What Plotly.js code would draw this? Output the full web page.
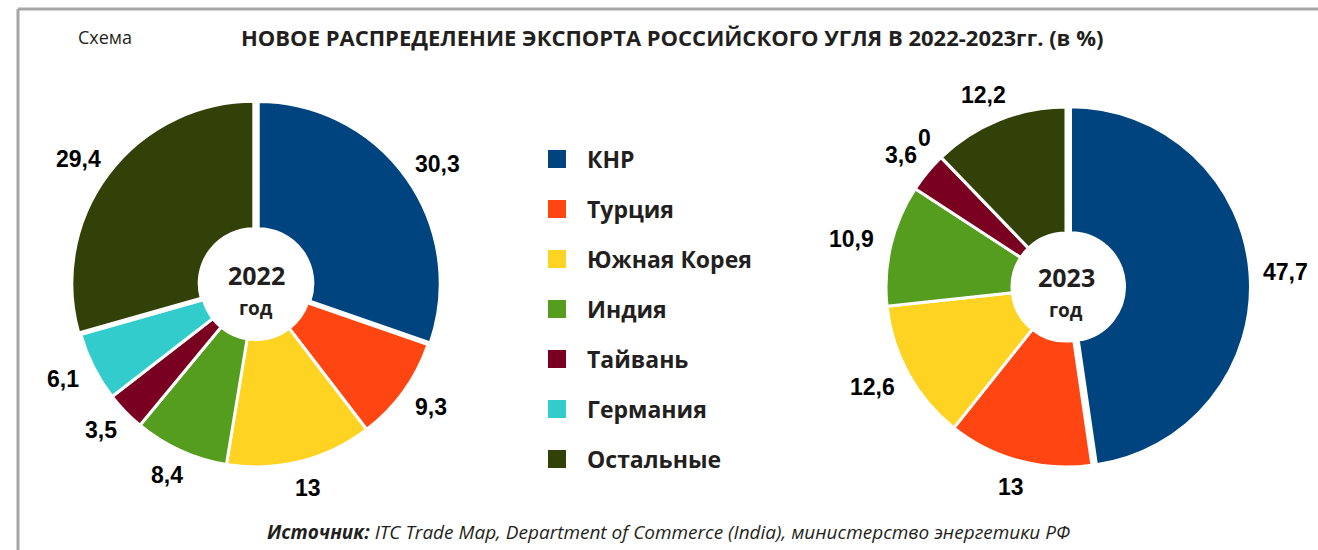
<!DOCTYPE html>
<html>
<head>
<meta charset="utf-8">
<script src="https://cdn.plot.ly/plotly-3.0.1.min.js"></script>
<style>
  html, body { margin: 0; padding: 0; background: #ffffff; }
  #chart { width: 1318px; height: 550px; }
</style>
</head>
<body>
<div id="chart"></div>
<script>
// ---- data ----
const categories = ["КНР", "Турция", "Южная Корея", "Индия", "Тайвань", "Германия", "Остальные"];
const colors = ["#00447F", "#FF4612", "#FFD321", "#559D1E", "#7A0022", "#33CCCC", "#324108"];
const values2022 = [30.3, 9.3, 13, 8.4, 3.5, 6.1, 29.4];
const values2023 = [47.7, 13, 12.6, 10.9, 3.6, 0, 12.2];
const pull2022 = [0.015, 0, 0, 0, 0, 0, 0.015];
const pull2023 = [0.025, 0, 0, 0, 0, 0, 0];
const yearLabels = ["2022", "2023"];
const yearWord = "год";
const titleText = "НОВОЕ РАСПРЕДЕЛЕНИЕ ЭКСПОРТА РОССИЙСКОГО УГЛЯ В 2022-2023гг. (в %)";
const schemaText = "Схема";
const sourceText = "<i><b>Источник:</b> ITC Trade Map, Department of Commerce (India), министерство энергетики РФ</i>";

// ---- geometry helpers ----
const W = 1318, H = 550;
const px = v => v / W;
const py = v => 1 - v / H;
const TXT = "#231F20";
const MYR = "Open Sans, Noto Sans, sans-serif";
const ARL = "Liberation Sans, Arial, sans-serif";
const LABEL_SIZE = 23;

const pies = [
  { values: values2022, pull: pull2022, cx: 256, cy: 285, r: 182, year: yearLabels[0] },
  { values: values2023, pull: pull2023, cx: 1066, cy: 287, r: 180, year: yearLabels[1] }
];

function textHalfWidth(s) {
  let w = 0;
  for (const ch of s) w += (ch === ",") ? 0.278 : 0.556;
  return w * LABEL_SIZE / 2;
}

const traces = [];
const annotations = [];

pies.forEach(p => {
  const maxPull = Math.max.apply(null, p.pull);
  const half = p.r * (1 + maxPull);
  traces.push({
    type: "pie",
    labels: categories,
    values: p.values,
    pull: p.pull,
    sort: false,
    direction: "clockwise",
    rotation: 0,
    hole: 0.3,
    textinfo: "none",
    hoverinfo: "none",
    showlegend: false,
    marker: { colors: colors, line: { color: "#ffffff", width: 3 } },
    domain: { x: [px(p.cx - half), px(p.cx + half)], y: [py(p.cy + half), py(p.cy - half)] }
  });
  // value labels placed just outside each slice, from the data
  const total = p.values.reduce((a, b) => a + b, 0);
  let cum = 0;
  p.values.forEach((v, i) => {
    const mid = (cum + v / 2) / total;
    cum += v;
    const th = 2 * Math.PI * mid;
    const s = String(v).replace(".", ",");
    const hw = textHalfWidth(s), hh = 9, gap = 18;
    const ux = Math.sin(th), uy = -Math.cos(th);
    const lx = p.cx + ux * (p.r + gap + hw);
    const ly = p.cy + uy * (p.r + gap + hh);
    annotations.push({
      xref: "paper", yref: "paper", x: px(lx), y: py(ly),
      xanchor: "center", yanchor: "middle", showarrow: false,
      text: "<b>" + s + "</b>",
      font: { family: ARL, size: LABEL_SIZE, color: "#000000" }
    });
  });
  // centre labels
  annotations.push({
    xref: "paper", yref: "paper", x: px(p.cx), y: py(p.cy - 10),
    xanchor: "center", yanchor: "middle", showarrow: false,
    text: "<b>" + p.year + "</b>",
    font: { family: MYR, size: 25, color: TXT }
  });
  annotations.push({
    xref: "paper", yref: "paper", x: px(p.cx), y: py(p.cy + 23),
    xanchor: "center", yanchor: "middle", showarrow: false,
    text: "<b>" + yearWord + "</b>",
    font: { family: MYR, size: 19, color: TXT }
  });
});

// ---- legend drawn as scatter on hidden axes ----
const idx = categories.map((c, i) => i);
traces.push({
  type: "scatter", mode: "markers",
  x: categories.map(() => 0), y: idx,
  marker: { symbol: "square", size: 18, color: colors, line: { width: 0 } },
  hoverinfo: "none", showlegend: false, xaxis: "x", yaxis: "y", cliponaxis: false
});
categories.forEach((c, i) => {
  annotations.push({
    xref: "x", yref: "y", x: 1, y: i,
    xanchor: "left", yanchor: "middle", showarrow: false,
    text: "<b>" + c + "</b>",
    font: { family: MYR, size: 23, color: TXT }
  });
});

// other texts
annotations.push({
  xref: "paper", yref: "paper", x: px(76), y: py(37),
  xanchor: "left", yanchor: "middle", showarrow: false,
  text: schemaText, font: { family: MYR, size: 18, color: TXT }
});
annotations.push({
  xref: "paper", yref: "paper", x: px(668), y: py(532),
  xanchor: "center", yanchor: "middle", showarrow: false,
  text: sourceText, font: { family: MYR, size: 19, color: TXT }
});

const unit = 28;
const layout = {
  width: W, height: H,
  margin: { l: 0, r: 0, t: 0, b: 0, pad: 0 },
  paper_bgcolor: "#ffffff", plot_bgcolor: "rgba(0,0,0,0)",
  showlegend: false,
  title: {
    text: "<b>" + titleText + "</b>",
    x: px(241), xref: "paper", xanchor: "left",
    y: py(38), yref: "paper", yanchor: "middle",
    font: { family: MYR, size: 22, color: TXT }
  },
  xaxis: {
    domain: [px(540), px(800)],
    range: [(540 - 557) / unit, (800 - 557) / unit],
    visible: false, fixedrange: true
  },
  yaxis: {
    domain: [py(484), py(134)],
    range: [6.5, -0.5],
    visible: false, fixedrange: true
  },
  annotations: annotations,
  shapes: [
    { type: "line", xref: "paper", yref: "paper", x0: px(18), x1: 1, y0: py(9), y1: py(9), line: { color: "#A6A6A6", width: 3 } },
    { type: "line", xref: "paper", yref: "paper", x0: px(18), x1: px(18), y0: py(9), y1: 0, line: { color: "#A6A6A6", width: 3 } }
  ]
};

Plotly.newPlot("chart", traces, layout, { staticPlot: true, displayModeBar: false });
</script>
</body>
</html>
